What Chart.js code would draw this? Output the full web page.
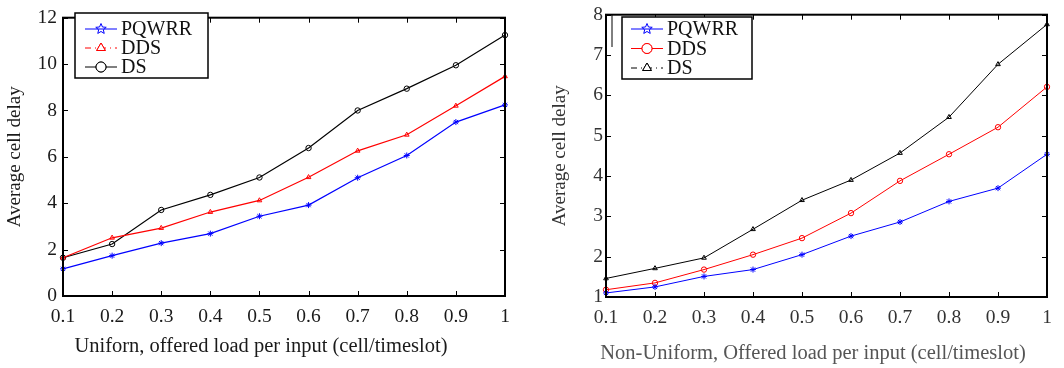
<!DOCTYPE html>
<html>
<head>
<meta charset="utf-8">
<script src="https://cdn.jsdelivr.net/npm/chart.js@4.4.1/dist/chart.umd.min.js"></script>
<style>
  html, body { margin: 0; padding: 0; background: #fff; }
  #wrap { position: relative; width: 1064px; height: 368px; overflow: hidden; }
  canvas { position: absolute; top: 0; }
  #left { left: 0; }
  #right { left: 532px; }
</style>
</head>
<body>
<div id="wrap">
  <canvas id="left" width="532" height="368"></canvas>
  <canvas id="right" width="532" height="368"></canvas>
</div>
<script>
// offered load per input (x axis, both panels)
const loads = ['0.1', '0.2', '0.3', '0.4', '0.5', '0.6', '0.7', '0.8', '0.9', '1'];

// uniform traffic
const uniPQWRR = [1.17, 1.74, 2.28, 2.69, 3.44, 3.92, 5.1, 6.06, 7.5, 8.24];
const uniDDS   = [1.65, 2.51, 2.93, 3.62, 4.12, 5.12, 6.26, 6.95, 8.2, 9.47];
const uniDS    = [1.65, 2.24, 3.71, 4.36, 5.11, 6.38, 8.0, 8.94, 9.95, 11.25];

// non-uniform traffic
const nonPQWRR = [1.1, 1.25, 1.51, 1.68, 2.05, 2.51, 2.86, 3.37, 3.7, 4.54];
const nonDDS   = [1.18, 1.35, 1.68, 2.05, 2.46, 3.08, 3.88, 4.54, 5.21, 6.21];
const nonDS    = [1.46, 1.71, 1.97, 2.68, 3.4, 3.9, 4.57, 5.46, 6.77, 7.76];

const SERIF = "'Liberation Serif', 'Times New Roman', serif";
const BLUE = '#0000ff', RED = '#ff0000', BLACK = '#000000';

// closed box round the plot, ticks pointing inwards on all four sides
const frame = {
  id: 'frame',
  afterDatasetsDraw(chart, args, opts) {
    const { ctx, chartArea: a, scales: { x, y } } = chart;
    ctx.save();
    ctx.strokeStyle = '#000';
    ctx.lineWidth = 1;
    ctx.beginPath();
    x.ticks.forEach((t, i) => {
      const px = Math.round(x.getPixelForTick(i)) + 0.5;
      ctx.moveTo(px, a.bottom); ctx.lineTo(px, a.bottom - opts.tick);
      ctx.moveTo(px, a.top); ctx.lineTo(px, a.top + opts.tick);
    });
    y.ticks.forEach((t, i) => {
      const py = Math.round(y.getPixelForTick(i)) + 0.5;
      ctx.moveTo(a.left, py); ctx.lineTo(a.left + opts.tick, py);
      ctx.moveTo(a.right, py); ctx.lineTo(a.right - opts.tick, py);
    });
    if (opts.stray) {
      ctx.moveTo(opts.stray[0], opts.stray[1]);
      ctx.lineTo(opts.stray[0], opts.stray[2]);
    }
    ctx.stroke();
    ctx.lineWidth = opts.width;
    ctx.strokeRect(a.left, a.top, a.right - a.left, a.bottom - a.top);
    ctx.restore();
  }
};

function pentagram(ctx, cx, cy, r) {
  ctx.beginPath();
  for (let i = 0; i < 10; i++) {
    const rr = i % 2 ? r * 0.45 : r;
    const ang = -Math.PI / 2 + i * Math.PI / 5;
    const px = cx + rr * Math.cos(ang), py = cy + rr * Math.sin(ang);
    i ? ctx.lineTo(px, py) : ctx.moveTo(px, py);
  }
  ctx.closePath();
  ctx.stroke();
}

// legend box in the top-left corner of the plot
const boxLegend = {
  id: 'boxLegend',
  afterDraw(chart, args, o) {
    const ctx = chart.ctx;
    ctx.save();
    ctx.fillStyle = '#fff';
    ctx.fillRect(o.x, o.y, o.w, o.h);
    ctx.strokeStyle = '#000';
    ctx.lineWidth = 1.5;
    ctx.strokeRect(o.x, o.y, o.w, o.h);
    ctx.font = o.font + 'px ' + SERIF;
    ctx.textBaseline = 'middle';
    chart.data.datasets.forEach((ds, i) => {
      const cy = o.y + o.first + i * o.step;
      ctx.strokeStyle = ds.borderColor;
      ctx.lineWidth = 1;
      ctx.setLineDash(ds.legendDash || []);
      ctx.beginPath();
      ctx.moveTo(o.x + o.l0, cy);
      ctx.lineTo(o.x + o.l1, cy);
      ctx.stroke();
      ctx.setLineDash([]);
      const mx = o.x + (o.l0 + o.l1) / 2;
      ctx.fillStyle = '#fff';
      if (ds.pointStyle === 'star') {
        pentagram(ctx, mx, cy, 5.5);
      } else {
        Chart.helpers.drawPoint(ctx, { pointStyle: ds.pointStyle, radius: 5, rotation: 0, borderWidth: 1 }, mx, cy);
        ctx.fill();
        ctx.stroke();
      }
      ctx.fillStyle = '#111';
      ctx.fillText(ds.label, o.x + o.tx, cy + 1);
    });
    ctx.restore();
  }
};

// x axis caption, placed off-centre like the original
const xCaption = {
  id: 'xCaption',
  afterDraw(chart, args, o) {
    const ctx = chart.ctx;
    ctx.save();
    ctx.font = o.font + 'px ' + SERIF;
    ctx.fillStyle = o.color;
    ctx.textAlign = 'center';
    ctx.textBaseline = 'middle';
    ctx.fillText(o.text, o.cx, o.cy);
    ctx.restore();
  }
};

function series(label, data, color, style, width, dash) {
  return {
    label, data,
    borderColor: color,
    borderWidth: width,
    pointStyle: style,
    pointRadius: style === 'star' ? 3 : 2.7,
    pointBorderColor: color,
    pointBackgroundColor: style === 'star' ? color : 'rgba(0,0,0,0)',
    pointBorderWidth: 1,
    tension: 0,
    clip: false,
    legendDash: dash
  };
}

function makeChart(id, cfg) {
  return new Chart(document.getElementById(id), {
    type: 'line',
    data: { labels: loads, datasets: cfg.datasets },
    options: {
      responsive: false,
      animation: false,
      devicePixelRatio: 1,
      layout: { padding: { top: cfg.top, right: cfg.right, left: 0, bottom: 0 } },
      scales: {
        x: {
          type: 'category',
          offset: false,
          grid: { display: false, drawTicks: false },
          border: { display: false },
          ticks: { autoSkip: false, maxRotation: 0, padding: 9, color: cfg.tickColor, font: { family: SERIF, size: 19.5 } },
          afterFit(s) { s.height = cfg.xh; }
        },
        y: {
          min: cfg.ymin, max: cfg.ymax,
          grid: { display: false, drawTicks: false },
          border: { display: false },
          ticks: { stepSize: cfg.step, padding: cfg.ypad, color: cfg.tickColor, font: { family: SERIF, size: 19.5 } },
          title: { display: true, text: 'Average cell delay', color: cfg.tickColor, font: { family: SERIF, size: 19 }, padding: { top: cfg.titlePad, bottom: 0 } },
          afterFit(s) { s.width = cfg.yw; }
        }
      },
      plugins: {
        legend: { display: false },
        tooltip: { enabled: false },
        frame: { tick: 5, width: 2, stray: cfg.stray },
        boxLegend: cfg.legend,
        xCaption: cfg.caption
      }
    },
    plugins: [frame, boxLegend, xCaption]
  });
}

makeChart('left', {
  datasets: [
    series('PQWRR', uniPQWRR, BLUE, 'star', 1.2),
    series('DDS', uniDDS, RED, 'triangle', 1.2, [6, 4, 1, 4]),
    series('DS', uniDS, BLACK, 'circle', 1.2)
  ],
  ymin: 0, ymax: 12, step: 2,
  top: 8, right: 27, xh: 72, yw: 63, ypad: 6, titlePad: 4,
  tickColor: '#1a1a1a',
  legend: { x: 75, y: 13, w: 133, h: 65, first: 16, step: 19, l0: 10, l1: 42, tx: 46, font: 20 },
  caption: { text: 'Uniforn, offered load per input (cell/timeslot)', cx: 261, cy: 347, font: 20.5, color: '#1a1a1a' }
});

makeChart('right', {
  datasets: [
    series('PQWRR', nonPQWRR, BLUE, 'star', 1),
    series('DDS', nonDDS, RED, 'circle', 1),
    series('DS', nonDS, BLACK, 'triangle', 1, [6, 4, 1, 4])
  ],
  ymin: 1, ymax: 8, step: 1,
  top: 7, right: 17, xh: 71, yw: 74, ypad: 3, titlePad: 17,
  tickColor: '#333',
  stray: [80, 15, 47],
  legend: { x: 90, y: 17, w: 130, h: 62, first: 12, step: 19.5, l0: 9, l1: 41, tx: 45, font: 20 },
  caption: { text: 'Non-Uniform, Offered load per input (cell/timeslot)', cx: 281, cy: 354, font: 20.5, color: '#555' }
});
</script>
</body>
</html>
